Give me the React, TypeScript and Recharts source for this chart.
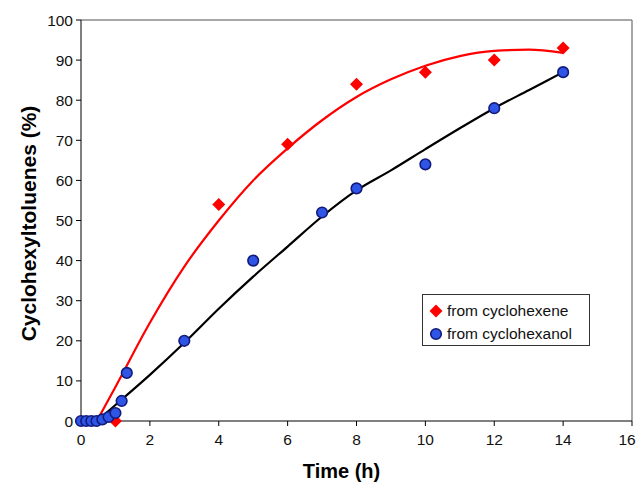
import React from 'react'
import {
  ComposedChart,
  Line,
  Scatter,
  XAxis,
  YAxis,
  Legend,
  ReferenceLine,
} from 'recharts'

// measured points
const hexeneTime = [1, 4, 6, 8, 10, 12, 14]
const hexenePct = [0, 54, 69, 84, 87, 90, 93]

const hexanolTime = [0, 0.15, 0.3, 0.45, 0.62, 0.8, 1.0, 1.18, 1.33, 3, 5, 7, 8, 10, 12, 14]
const hexanolPct = [0, 0, 0, 0, 0.4, 1, 2, 5, 12, 20, 40, 52, 58, 64, 78, 87]

// trend curves
const curveTime = [0.46, 1, 2, 3, 4, 5, 6, 7, 8, 9, 10, 11, 12, 13, 14]
const hexeneCurve = [0, 8.5, 24.5, 38.5, 50, 60, 68, 75, 80.8, 85.2, 88.6, 91, 92.3, 92.6, 91.8]
const hexanolCurve = [0, 4, 11.5, 19.5, 28, 36, 43.5, 51, 57.5, 62.5, 67.8, 73, 78, 82.5, 87]

const xTicks = [0, 2, 4, 6, 8, 10, 12, 14, 16]
const yTicks = [0, 10, 20, 30, 40, 50, 60, 70, 80, 90, 100]

const zip = (xs: number[], ys: number[]) => xs.map((x, i) => ({ x, y: ys[i] }))

const hexenePoints = zip(hexeneTime, hexenePct)
const hexanolPoints = zip(hexanolTime, hexanolPct)
const hexeneLine = zip(curveTime, hexeneCurve)
const hexanolLine = zip(curveTime, hexanolCurve)

const FONT = '"Liberation Sans", Arial, Helvetica, sans-serif'
const RED = '#ff0000'
const BLUE_FILL = '#2f55e6'
const BLUE_EDGE = '#121a7a'

const Diamond = (props: any) => {
  const { cx, cy } = props
  if (cx == null || cy == null) return null
  const s = 6.5
  return (
    <polygon
      points={`${cx},${cy - s} ${cx + s},${cy} ${cx},${cy + s} ${cx - s},${cy}`}
      fill={RED}
    />
  )
}

const Dot = (props: any) => {
  const { cx, cy } = props
  if (cx == null || cy == null) return null
  return <circle cx={cx} cy={cy} r={5.3} fill={BLUE_FILL} stroke={BLUE_EDGE} strokeWidth={1.6} />
}

// last label sits a little left of its tick, as in the original
const XTick = (props: any) => {
  const { x, y, payload } = props
  const shift = payload.value === 16 ? -4 : 0
  return (
    <text x={x + shift} y={y} dy="0.71em" textAnchor="middle" fill="#111" style={{ fontSize: 15.5, fontFamily: FONT }}>
      {payload.value}
    </text>
  )
}

const YTitle = (props: any) => {
  const vb = props.viewBox || { x: 0, y: 20, width: 81, height: 401 }
  const cx = vb.x + 28
  const cy = vb.y + vb.height / 2 + 3
  return (
    <text
      x={cx}
      y={cy}
      transform={`rotate(-90, ${cx}, ${cy})`}
      textAnchor="middle"
      dominantBaseline="central"
      fill="#000"
      style={{ fontSize: 21, fontWeight: 'bold', fontFamily: FONT }}
    >
      Cyclohexyltoluenes (%)
    </text>
  )
}

function LegendBox() {
  return (
    <div
      style={{
        width: 168,
        height: 52,
        border: '1.5px solid #333',
        background: '#fff',
        fontFamily: FONT,
        fontSize: 15.5,
        color: '#111',
        boxSizing: 'border-box',
        padding: '4px 0 0 5px',
        lineHeight: '23px',
      }}
    >
      <div style={{ display: 'flex', alignItems: 'center' }}>
        <svg width={16} height={16} style={{ marginRight: 3 }}>
          <polygon points="8,1.5 14.5,8 8,14.5 1.5,8" fill={RED} />
        </svg>
        from cyclohexene
      </div>
      <div style={{ display: 'flex', alignItems: 'center' }}>
        <svg width={16} height={16} style={{ marginRight: 3 }}>
          <circle cx={8} cy={8} r={5.3} fill={BLUE_FILL} stroke={BLUE_EDGE} strokeWidth={1.6} />
        </svg>
        from cyclohexanol
      </div>
    </div>
  )
}

export default function App() {
  return (
    <div style={{ width: 639, height: 484, background: '#fff' }}>
      <style>{'body { margin: 0; }'}</style>
      <ComposedChart
        width={639}
        height={484}
        margin={{ top: 20, right: 7, left: 0, bottom: 0 }}
        style={{ fontFamily: FONT }}
      >
        <XAxis
          type="number"
          dataKey="x"
          domain={[0, 16]}
          ticks={xTicks}
          height={63}
          stroke="#000"
          tickSize={5}
          tickMargin={8}
          tick={<XTick />}
          label={{
            value: 'Time (h)',
            position: 'insideBottom',
            offset: 6,
            dx: -15,
            style: { fill: '#000', fontSize: 20, fontWeight: 'bold', fontFamily: FONT },
          }}
        />
        <YAxis
          type="number"
          dataKey="y"
          domain={[0, 100]}
          ticks={yTicks}
          width={81}
          stroke="#000"
          tickSize={5}
          tickMargin={3}
          tick={{ fill: '#111', fontSize: 15.5 }}
          label={{ content: (p: any) => <YTitle {...p} /> }}
        />
        <ReferenceLine y={100} stroke="#8a8a8a" strokeWidth={1.5} />
        <ReferenceLine x={16} stroke="#8a8a8a" strokeWidth={1.5} />
        <Scatter
          name="from cyclohexene"
          data={hexenePoints}
          shape={<Diamond />}
          isAnimationActive={false}
        />
        <Scatter
          name="from cyclohexanol"
          data={hexanolPoints}
          shape={<Dot />}
          isAnimationActive={false}
        />
        <Line
          data={hexeneLine}
          dataKey="y"
          type="monotone"
          stroke={RED}
          strokeWidth={2.2}
          dot={false}
          activeDot={false}
          legendType="none"
          isAnimationActive={false}
        />
        <Line
          data={hexanolLine}
          dataKey="y"
          type="monotone"
          stroke="#000"
          strokeWidth={2.2}
          dot={false}
          activeDot={false}
          legendType="none"
          isAnimationActive={false}
        />
        <Legend
          layout="vertical"
          align="center"
          verticalAlign="middle"
          content={() => <LegendBox />}
          wrapperStyle={{ position: 'absolute', left: 422, top: 294, width: 170, height: 54 }}
        />
      </ComposedChart>
    </div>
  )
}
